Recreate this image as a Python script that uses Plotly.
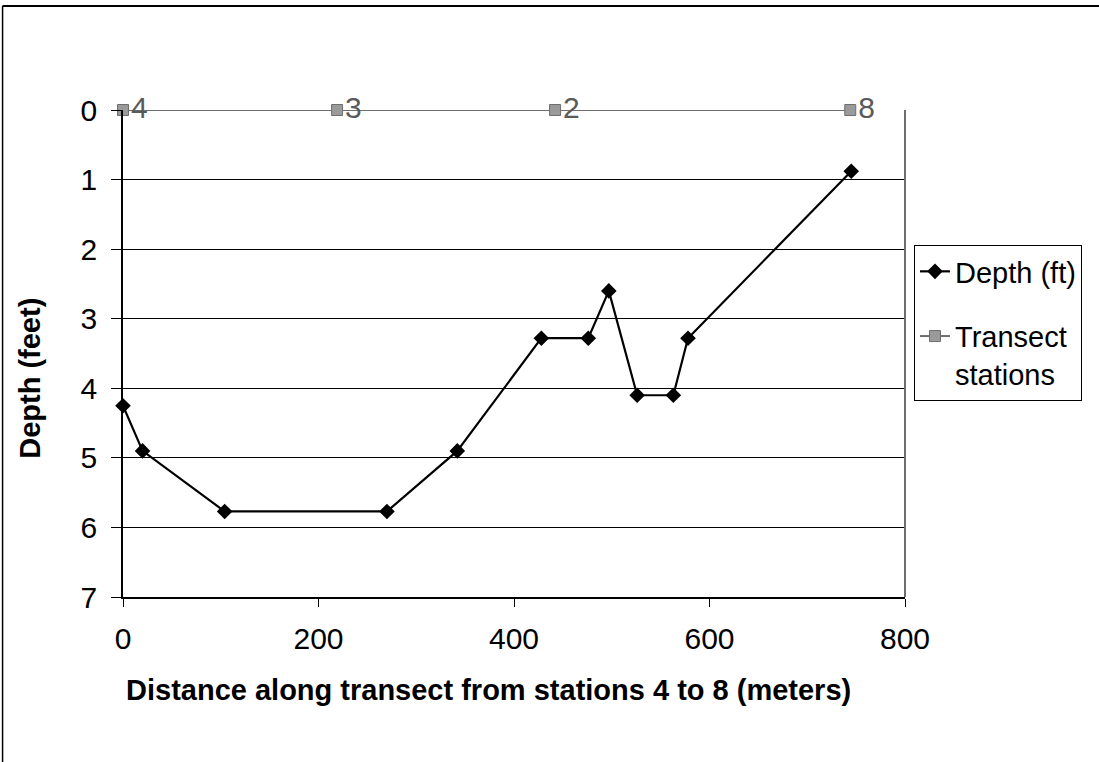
import plotly.graph_objects as go

# Depth profile along the transect
distance_m = [0, 20, 104, 270, 342, 428, 476, 497, 526, 563, 578, 745]
depth_ft = [4.25, 4.9, 5.77, 5.77, 4.9, 3.28, 3.28, 2.6, 4.1, 4.1, 3.28, 0.88]

# Transect station positions (drawn at the surface)
station_dist = [0, 219, 442, 744]
station_depth = [0, 0, 0, 0]
station_labels = ["4", "3", "2", "8"]

x_ticks = [0, 200, 400, 600, 800]
y_ticks = [0, 1, 2, 3, 4, 5, 6, 7]

FONT = "Liberation Sans, Arial, sans-serif"

fig = go.Figure()

fig.add_trace(go.Scatter(
    x=distance_m, y=depth_ft, mode="lines+markers", name="Depth (ft)",
    legendgroup="depth",
    line=dict(color="black", width=2.2),
    marker=dict(symbol="diamond", size=12, color="black"),
    cliponaxis=False,
))

fig.add_trace(go.Scatter(
    x=station_dist, y=station_depth, mode="lines+markers+text", name="Transect<br>stations",
    legendgroup="stations",
    text=station_labels, textposition="middle right",
    textfont=dict(family=FONT, size=30, color="#5a5a5a"),
    line=dict(color="#6e6e6e", width=2),
    marker=dict(symbol="square", size=11, color="#9a9a9a",
                line=dict(color="#6e6e6e", width=1)),
    cliponaxis=False,
))

fig.update_layout(
    width=1099, height=762,
    margin=dict(l=123, r=194, t=110, b=165),
    paper_bgcolor="white", plot_bgcolor="white",
    font=dict(family=FONT, size=30, color="black"),
    showlegend=True,
    legend=dict(
        x=1.0115, y=0.7228, xanchor="left", yanchor="top",
        bordercolor="black", borderwidth=1, bgcolor="white",
        font=dict(family=FONT, size=29, color="black"),
        tracegroupgap=24, itemwidth=30, valign="top",
    ),
    xaxis=dict(
        range=[0, 800], tickvals=x_ticks, showgrid=False, zeroline=False,
        showline=True, linecolor="black", linewidth=1.5,
        ticks="outside", ticklen=8, tickcolor="black",
        ticklabelstandoff=6,
        tickfont=dict(family=FONT, size=30),
    ),
    yaxis=dict(
        range=[7, 0], tickvals=y_ticks, showgrid=True, gridcolor="black", gridwidth=1.2,
        zeroline=False, showline=True, linecolor="black", linewidth=1.5,
        ticks="outside", ticklen=10, tickcolor="black",
        ticklabelstandoff=8,
        tickfont=dict(family=FONT, size=30),
    ),
    annotations=[
        dict(text="<b>Distance along transect from stations 4 to 8 (meters)</b>",
             xref="paper", yref="paper", x=0.4668, y=-0.191,
             xanchor="center", yanchor="middle", showarrow=False,
             font=dict(family=FONT, size=29, color="black")),
        dict(text="<b>Depth (feet)</b>", textangle=-90,
             xref="paper", yref="paper", x=-0.119, y=0.45,
             xanchor="center", yanchor="middle", showarrow=False,
             font=dict(family=FONT, size=29, color="black")),
    ],
    shapes=[
        # right edge of the plot area
        dict(type="line", xref="paper", yref="paper", x0=1, x1=1, y0=0, y1=1,
             line=dict(color="#6e6e6e", width=2)),
        # chart-area frame (top and left edges)
        dict(type="line", xref="paper", yref="paper", x0=-0.154, x1=1.25, y0=1.2136, y1=1.2136,
             line=dict(color="black", width=2)),
        dict(type="line", xref="paper", yref="paper", x0=-0.154, x1=-0.154, y0=-0.34, y1=1.2136,
             line=dict(color="black", width=1.5)),
    ],
)

fig.write_html("out.html")
